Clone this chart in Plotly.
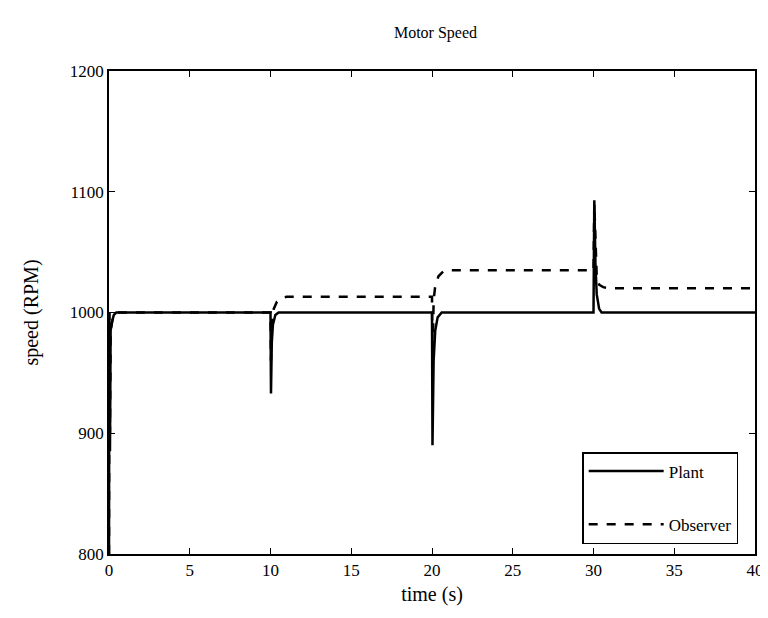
import plotly.graph_objects as go

# Time (s) and speed (RPM)
plant_t = [0, 0.02, 0.06, 0.1, 0.2, 0.3, 0.45, 10.0, 10.03, 10.08, 10.15, 10.3, 10.5,
           20.0, 20.03, 20.1, 20.2, 20.35, 20.6, 30.0, 30.05, 30.12, 30.2, 30.35, 30.5, 40]
plant_v = [800, 1000, 885, 985, 993, 998, 1000, 1000, 933, 975, 990, 998, 1000,
           1000, 890, 960, 985, 996, 1000, 1000, 1093, 1040, 1015, 1003, 1000, 1000]

obs_t = [0, 0.02, 0.06, 0.1, 0.2, 0.3, 0.45, 10.0, 10.03, 10.08, 10.2, 10.4, 10.7, 11.0,
         20.0, 20.03, 20.1, 20.2, 20.4, 20.7, 21.0, 30.0, 30.05, 30.12, 30.2, 30.35, 30.6, 31.0, 40]
obs_v = [800, 1000, 900, 985, 993, 998, 1000, 1000, 960, 990, 1003, 1009, 1012, 1013,
         1013, 955, 1010, 1022, 1030, 1034, 1035, 1035, 1090, 1050, 1030, 1023, 1021, 1020, 1020]

x_ticks = [0, 5, 10, 15, 20, 25, 30, 35, 40]
y_ticks = [800, 900, 1000, 1100, 1200]

FONT = "Liberation Serif, Times New Roman, serif"

fig = go.Figure()
fig.add_trace(go.Scatter(x=plant_t, y=plant_v, mode="lines", name="Plant",
                         legendgroup="a",
                         line=dict(color="black", width=2.5)))
fig.add_trace(go.Scatter(x=obs_t, y=obs_v, mode="lines", name="Observer",
                         legendgroup="b",
                         line=dict(color="black", width=2.5, dash="dash")))

fig.update_layout(
    width=768, height=618,
    paper_bgcolor="white", plot_bgcolor="white",
    margin=dict(l=101, r=14, t=63, b=72),
    font=dict(family=FONT, size=17, color="black"),
    title=dict(text="Motor Speed", x=(101 + 754) / 2 / 768, xanchor="center",
               y=1 - 24 / 618, yanchor="middle", yref="container",
               font=dict(family=FONT, size=16, color="black")),
    showlegend=True,
    legend=dict(x=1 - 17 / 653, y=10 / 483, xanchor="right", yanchor="bottom",
                bordercolor="black", borderwidth=1.5, bgcolor="white",
                traceorder="grouped", tracegroupgap=28,
                font=dict(family=FONT, size=17, color="black"),
                itemwidth=75),
)
fig.update_xaxes(range=[0, 40], tickvals=x_ticks, ticks="inside", ticklen=6,
                 showline=True, linecolor="black", linewidth=1.5, mirror="ticks",
                 tickcolor="black", showgrid=False, zeroline=False,
                 title=dict(text="time (s)", standoff=8))
fig.update_yaxes(range=[800, 1200], tickvals=y_ticks, ticks="inside", ticklen=6,
                 showline=True, linecolor="black", linewidth=1.5, mirror="ticks",
                 tickcolor="black", showgrid=False, zeroline=False,
                 title=dict(text="speed (RPM)", standoff=26))

fig.write_html("out.html")
